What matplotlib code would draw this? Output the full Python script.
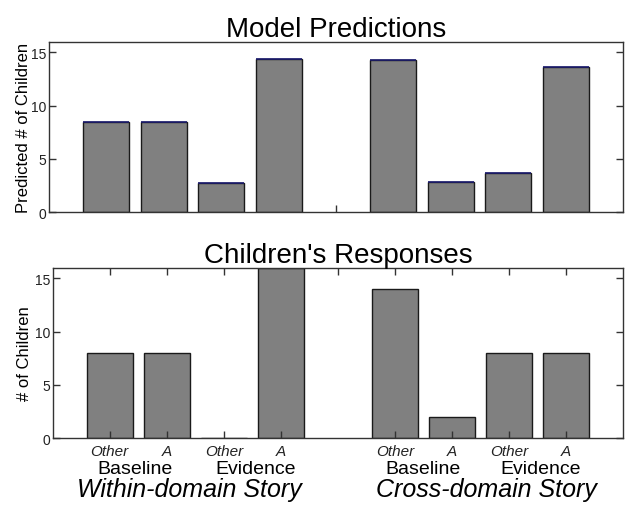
import matplotlib
matplotlib.use("Agg")
import matplotlib.pyplot as plt

plt.rcParams['font.family'] = ['Liberation Sans', 'DejaVu Sans']

positions = [1, 2, 3, 4, 6, 7, 8, 9]
choice_labels = ["Other", "A", "Other", "A", "Other", "A", "Other", "A"]
model_values = [8.5, 8.5, 2.7, 14.4, 14.3, 2.85, 3.65, 13.6]
child_values = [8, 8, 0, 16, 14, 2, 8, 8]
condition_labels = ["Baseline", "Evidence", "Baseline", "Evidence"]
condition_pos = [1.45, 3.55, 6.5, 8.55]
story_labels = ["Within-domain Story", "Cross-domain Story"]
story_pos = [2.4, 7.6]

fig = plt.figure(figsize=(6.28, 5.10), dpi=100)
fig.patch.set_facecolor("white")

ax1 = fig.add_axes([0.078, 0.582, 0.914, 0.334])
ax2 = fig.add_axes([0.084, 0.139, 0.908, 0.334])


def style_axes(ax):
    for s in ax.spines.values():
        s.set_color("#333333")
        s.set_linewidth(1.0)
    ax.set_xlim(0, 10)
    ax.set_ylim(0, 16)
    ax.set_yticks([0, 5, 10, 15])
    ax.tick_params(axis="y", direction="in", length=5, width=1, left=True,
                   right=True, labelsize=10, pad=2, colors="#333333",
                   labelcolor="#222222")


# model predictions
ax1.bar(positions, model_values, width=0.8, color="#808080",
        edgecolor="#1a1a1a", linewidth=1.0)
ax1.hlines(model_values, [p - 0.4 for p in positions],
           [p + 0.4 for p in positions], color="#1a1a6e", linewidth=1.2)
style_axes(ax1)
ax1.set_xticks([5])
ax1.set_xticklabels([])
ax1.tick_params(axis="x", direction="in", length=5, width=1, colors="#333333")
ax1.set_ylabel("Predicted # of Children", fontsize=12, labelpad=0)
ax1.set_title("Model Predictions", fontsize=20, pad=4)

# children's responses
ax2.bar(positions, child_values, width=0.8, color="#808080",
        edgecolor="#1a1a1a", linewidth=1.0)
style_axes(ax2)
ax2.set_xticks(positions)
ax2.set_xticklabels(choice_labels, fontsize=11, style="italic")
ax2.tick_params(axis="x", direction="in", length=5, width=1, colors="#333333",
                labelcolor="#222222", pad=4)
top = ax2.secondary_xaxis("top")
top.set_xticks([1, 2, 3, 4, 5, 6, 7, 8, 9])
top.set_xticklabels([])
top.tick_params(direction="in", length=5, width=1, colors="#333333")
top.spines["top"].set_visible(False)
ax2.set_ylabel("# of Children", fontsize=12, labelpad=2)
ax2.set_title("Children's Responses", fontsize=20, pad=3)

trans = ax2.get_xaxis_transform()
for lab, x in zip(condition_labels, condition_pos):
    ax2.text(x, -0.18, lab, transform=trans, ha="center", va="center",
             fontsize=14)
for lab, x in zip(story_labels, story_pos):
    ax2.text(x, -0.30, lab, transform=trans, ha="center", va="center",
             fontsize=18, style="italic")

plt.savefig("out.png", dpi=100, facecolor="white")
